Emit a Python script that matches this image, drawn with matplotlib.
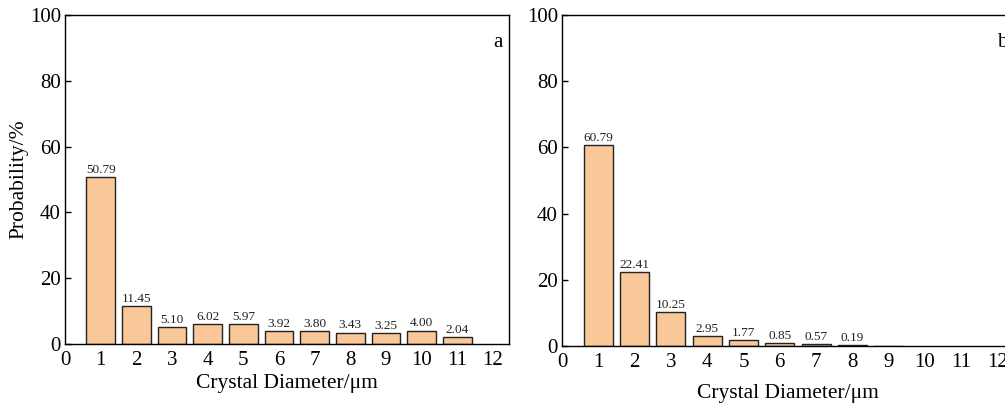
import numpy as np
import matplotlib.pyplot as plt

plt.rcParams['font.family'] = ['Liberation Serif', 'DejaVu Serif']

# Crystal size distribution data
diam_a = [1, 2, 3, 4, 5, 6, 7, 8, 9, 10, 11]
prob_a = [50.79, 11.45, 5.10, 6.02, 5.97, 3.92, 3.80, 3.43, 3.25, 4.00, 2.04]

diam_b = [1, 2, 3, 4, 5, 6, 7, 8, 9]
prob_b = [60.79, 22.41, 10.25, 2.95, 1.77, 0.85, 0.57, 0.19, 0.0]
labels_b = ['60.79', '22.41', '10.25', '2.95', '1.77', '0.85', '0.57', '0.19', '']

xticks = list(range(0, 13))
yticks = [0, 20, 40, 60, 80, 100]

bar_color = '#FAC898'

fig = plt.figure(figsize=(10.05, 4.08), dpi=100)
ax1 = fig.add_axes([0.0647, 0.157, 0.4418, 0.806])
ax2 = fig.add_axes([0.5592, 0.152, 0.4497, 0.811])


def draw(ax, x, y, labels, letter, xlab_pad):
    ax.bar(x, y, width=0.8, color=bar_color, edgecolor='#222222', linewidth=1.0)
    for xi, yi, lab in zip(x, y, labels):
        if lab:
            ax.text(xi, yi + 0.4, lab, ha='center', va='bottom', fontsize=9.5, color='#222222')
    ax.set_xlim(0, 12.45)
    ax.set_ylim(0, 100)
    ax.set_xticks(xticks)
    ax.set_yticks(yticks)
    ax.tick_params(axis='both', direction='in', labelsize=15, length=4, width=1)
    ax.tick_params(axis='x', length=0, pad=5)
    ax.tick_params(axis='y', pad=3)
    for s in ax.spines.values():
        s.set_linewidth(1.0)
        s.set_color('black')
    ax.set_xlabel('Crystal Diameter/μm', fontsize=15.5, labelpad=xlab_pad)
    ax.text(0.985, 0.945, letter, transform=ax.transAxes, ha='right', va='top', fontsize=15)


draw(ax1, diam_a, prob_a, [f'{v:.2f}' for v in prob_a], 'a', 3)
draw(ax2, diam_b, prob_b, labels_b, 'b', 9)
ax1.set_ylabel('Probability/%', fontsize=15.5, labelpad=1)

fig.savefig('out.png', dpi=100)
